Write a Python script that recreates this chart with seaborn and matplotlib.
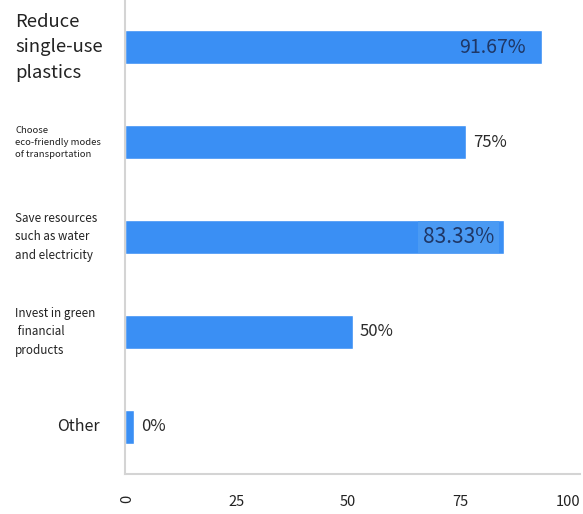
import matplotlib
matplotlib.use("Agg")
import matplotlib.pyplot as plt
import matplotlib.transforms as mtransforms
import seaborn as sns
import pandas as pd

categories = ["Reduce\nsingle-use\nplastics",
              "Choose\neco-friendly modes\nof transportation",
              "Save resources\nsuch as water\nand electricity",
              "Invest in green\n financial\nproducts",
              "Other"]
values = [91.67, 75, 83.33, 50, 0]
value_labels = ["91.67%", "75%", "83.33%", "50%", "0%"]
xticks = [0, 25, 50, 75, 100]

sns.set_theme(style="white")
plt.rcParams['font.family'] = ['Noto Sans CJK SC', 'DejaVu Sans']

# minimum visible bar length so the zero row still shows a sliver
shown = [max(v, 2) for v in values]
df = pd.DataFrame({"cat": categories, "val": shown})

fig = plt.figure(figsize=(5.83, 5.14), dpi=100)
ax = fig.add_axes([125/583, 1 - 474/514, (580-125)/583, 474/514])
sns.barplot(data=df, y="cat", x="val", orient="h", color="#3a8ff4",
            saturation=1, width=0.36, ax=ax)
ax.set_xlim(0, 100)
ax.set_ylim(4.5, -0.5)
ax.set_xlabel("")
ax.set_ylabel("")
ax.set_yticks([])
ax.set_xticks(xticks)
ax.set_xticklabels([str(t) for t in xticks], fontsize=10.5, color="#222222")
ax.tick_params(axis="x", length=0, pad=15)
lbls = ax.get_xticklabels()
lbls[0].set_rotation(90)
shifts = [2, -2, -5, -6, 0]
for lb, dx in zip(lbls, shifts):
    lb.set_transform(lb.get_transform() +
                     mtransforms.ScaledTranslation(dx/100, 0, fig.dpi_scale_trans))
lbls[-1].set_ha("right")

for s in ["top", "right"]:
    ax.spines[s].set_visible(False)
for s in ["left", "bottom"]:
    ax.spines[s].set_color("#d4d4d4")
    ax.spines[s].set_linewidth(1.5)

# category labels
trans = mtransforms.blended_transform_factory(fig.transFigure, ax.transData)
cat_sizes = [13.3, 6.9, 8.4, 8.4, 11.5]
cat_spacing = [1.55, 1.45, 1.55, 1.55, 1.0]
for i, (c, fs, ls) in enumerate(zip(categories, cat_sizes, cat_spacing)):
    if c == "Other":
        ax.text(100/583, i, c, transform=trans, ha="right", va="center",
                fontsize=fs, color="#222222")
    else:
        ax.text(15/583, i, c, transform=trans, ha="left", va="center",
                fontsize=fs, color="#222222", linespacing=ls)

# value labels
ax.text(values[0] - 3.5, 0, value_labels[0], ha="right", va="center",
        fontsize=14, color="#1f3766")
ax.text(shown[1] + 1.5, 1, value_labels[1], ha="left", va="center",
        fontsize=12, color="#2a2a2a")
ax.text(values[2] - 2.2, 2, value_labels[2], ha="right", va="center",
        fontsize=15, color="#1f3766",
        bbox=dict(boxstyle="square,pad=0.22", fc="#4a9af3", ec="none"))
ax.text(shown[3] + 1.5, 3, value_labels[3], ha="left", va="center",
        fontsize=12, color="#2a2a2a")
ax.text(shown[4] + 1.5, 4, value_labels[4], ha="left", va="center",
        fontsize=12, color="#2a2a2a")

fig.savefig("out.png", dpi=100)
